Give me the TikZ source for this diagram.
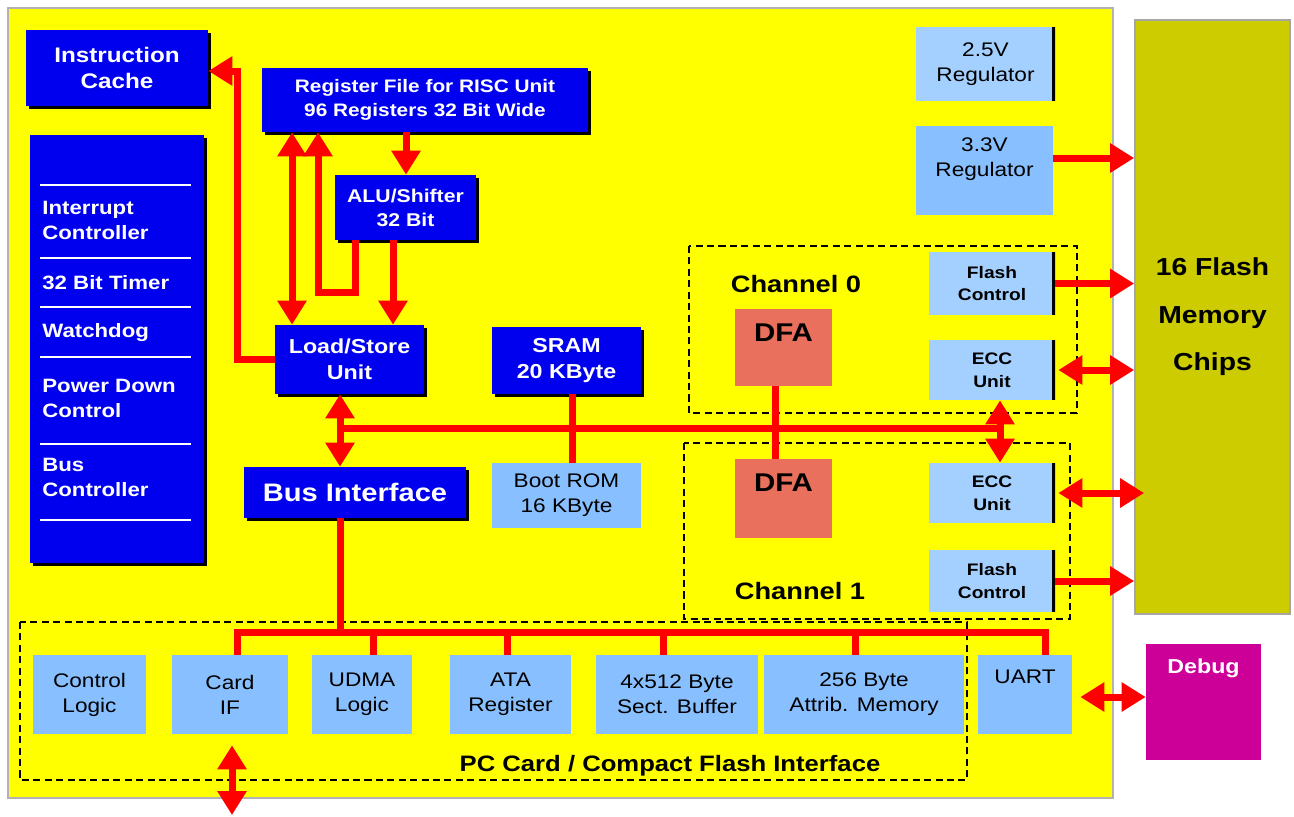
\documentclass[tikz,border=0pt]{standalone}
\usepackage{fontspec}
\setmainfont{Liberation Sans}[FakeStretch=1.15]
\usepackage{tikz}
\usetikzlibrary{arrows.meta,shadows,calc}
\definecolor{BoardYellow}{HTML}{FFFF00}
\definecolor{CoreBlue}{HTML}{0000EE}
\definecolor{UnitBlue}{HTML}{88C0FF}
\definecolor{CtrlBlue}{HTML}{A4D0FF}
\definecolor{ChipOlive}{HTML}{CCCC00}
\definecolor{DfaSalmon}{HTML}{E8705C}
\definecolor{DebugMagenta}{HTML}{CC0099}
\definecolor{BusRed}{HTML}{FF0000}

\begin{document}
\begin{tikzpicture}[x=0.02cm, y=-0.02cm,
    core/.style={fill=CoreBlue, text=white, align=center, inner sep=0pt,
        drop shadow={shadow xshift=1.6pt, shadow yshift=-1.6pt, fill=black, opacity=1},
        font=\bfseries\fontsize{11.5}{14.7}\selectfont},
    unit/.style={fill=UnitBlue, align=center, inner sep=0pt, font=\fontsize{11.2}{14.2}\selectfont},
    blackedge/.style={path picture={\draw[black, line width=3pt] (path picture bounding box.north east) -- (path picture bounding box.south east);}},
    ctrl/.style={fill=CtrlBlue, blackedge, align=center, inner sep=0pt, font=\bfseries\fontsize{9.5}{13}\selectfont},
    sidetext/.style={anchor=west, align=left, text=white, inner sep=0pt, font=\bfseries\fontsize{11}{14.2}\selectfont},
    grp/.style={draw=black, line width=0.8pt, dash pattern=on 4pt off 2.5pt},
    grplabel/.style={inner sep=0pt, font=\bfseries\fontsize{13.5}{16}\selectfont},
    bus/.style={draw=BusRed, line width=0.14cm},
    arr/.style={bus, -{Triangle[length=0.48cm, width=0.56cm]}},
    dblarr/.style={bus, {Triangle[length=0.48cm, width=0.56cm]}-{Triangle[length=0.48cm, width=0.56cm]}}]
    \useasboundingbox (0,0) rectangle (1294,816);
    % board and external parts
    \node[fill=BoardYellow, draw=gray!60, line width=1pt, minimum width=22.1cm, minimum height=15.8cm, inner sep=0pt] (board) at (560.5,403) {};
    \node[fill=ChipOlive, draw=gray!70, line width=1pt, minimum width=3.10cm, minimum height=11.88cm, align=center, inner sep=0pt, font=\bfseries\fontsize{14}{27}\selectfont] (chips) at (1212.5,317) {16 Flash\\Memory\\Chips};
    \node[fill=DebugMagenta, minimum width=2.30cm, minimum height=2.32cm, inner sep=0pt, label={[anchor=north, yshift=-0.30cm, inner sep=0pt, text=white, font=\bfseries\fontsize{11.5}{14}\selectfont]north:Debug}] (debug) at (1203.5,702) {};

    % dashed groups
    \draw[grp] (689,246) rectangle (1077,413);
    \draw[grp] (684,443) rectangle (1070,619);
    \draw[grp] (20,622) rectangle (967,780);
    \node[grplabel] (ch0lbl) at (796,284) {Channel 0};
    \node[grplabel] (ch1lbl) at (800,591) {Channel 1};
    \node[grplabel, font=\bfseries\fontsize{12.7}{15}\selectfont] (pclbl) at (670,766) {PC Card / Compact Flash Interface};

    % processor core
    \node[core, minimum width=3.64cm, minimum height=1.52cm, font=\bfseries\fontsize{12}{14.7}\selectfont] (icache) at (117,68) {Instruction\\Cache};
    \node[core, minimum width=6.52cm, minimum height=1.28cm, font=\bfseries\fontsize{10.3}{13.6}\selectfont] (regfile) at (425,100) {Register File for RISC Unit\\96 Registers 32 Bit Wide};
    \node[core, minimum width=2.82cm, minimum height=1.30cm, font=\bfseries\fontsize{10.5}{13.6}\selectfont] (alu) at (405.5,207.5) {ALU/Shifter\\32 Bit};
    \node[core, minimum width=2.98cm, minimum height=1.38cm] (ls) at (349.5,359.5) {Load/Store\\Unit};
    \node[core, minimum width=2.98cm, minimum height=1.34cm] (sram) at (566.5,360.5) {SRAM\\20 KByte};
    \node[core, minimum width=4.44cm, minimum height=1.02cm, font=\bfseries\fontsize{14.4}{16}\selectfont] (busif) at (355,492.5) {Bus Interface};
    \node[unit, minimum width=2.98cm, minimum height=1.30cm] (bootrom) at (566.5,495.5) {Boot ROM\\16 KByte};

    % peripherals column
    \node[core, minimum width=3.48cm, minimum height=8.56cm] (periph) at (117,349) {};
    \foreach \y in {185,258,307,357,444,520}
        \draw[white, line width=0.9pt] (40,\y) -- (191,\y);
    \node[sidetext] (irq) at (42,220) {Interrupt\\Controller};
    \node[sidetext] (timer) at (42,283) {32 Bit Timer};
    \node[sidetext] (wdog) at (42,333) {Watchdog};
    \node[sidetext] (pwrdn) at (42,398.5) {Power Down\\Control};
    \node[sidetext] (busctl) at (42,477.5) {Bus\\Controller};

    % regulators and flash channels
    \node[unit, fill=CtrlBlue, blackedge, minimum width=2.78cm, minimum height=1.48cm] (reg25) at (985.5,64) {2.5V\\Regulator};
    \node[unit, minimum width=2.74cm, minimum height=1.78cm, label={[anchor=north, yshift=-0.24cm, inner sep=0pt, align=center, font=\fontsize{11.2}{14.2}\selectfont]north:3.3V\\Regulator}] (reg33) at (984.5,170.5) {};
    \node[ctrl, minimum width=2.52cm, minimum height=1.26cm] (fc0) at (992,283.5) {Flash\\Control};
    \node[ctrl, minimum width=2.52cm, minimum height=1.20cm] (ecc0) at (992,370) {ECC\\Unit};
    \node[ctrl, minimum width=2.52cm, minimum height=1.20cm] (ecc1) at (992,493) {ECC\\Unit};
    \node[ctrl, minimum width=2.52cm, minimum height=1.24cm] (fc1) at (992,581) {Flash\\Control};
    \node[fill=DfaSalmon, minimum width=1.94cm, minimum height=1.54cm, inner sep=0pt, label={[anchor=north, yshift=-0.30cm, inner sep=0pt, font=\bfseries\fontsize{14.6}{16}\selectfont]north:DFA}] (dfa0) at (783.5,347.5) {};
    \node[fill=DfaSalmon, minimum width=1.94cm, minimum height=1.58cm, inner sep=0pt, label={[anchor=north, yshift=-0.30cm, inner sep=0pt, font=\bfseries\fontsize{14.6}{16}\selectfont]north:DFA}] (dfa1) at (783.5,498.5) {};

    % host interface blocks
    \node[unit, minimum width=2.26cm, minimum height=1.58cm] (ctl) at (89.5,694.5) {Control\\Logic};
    \node[unit, minimum width=2.32cm, minimum height=1.58cm] (cardif) at (230,694.5) {Card\\IF};
    \node[unit, minimum width=2.00cm, minimum height=1.58cm] (udma) at (362,694.5) {UDMA\\Logic};
    \node[unit, minimum width=2.42cm, minimum height=1.58cm] (ata) at (510.5,694.5) {ATA\\Register};
    \node[unit, minimum width=3.24cm, minimum height=1.58cm] (sect) at (677,694.5) {4x512 Byte\\Sect. Buffer};
    \node[unit, minimum width=4.00cm, minimum height=1.58cm] (attr) at (864,694.5) {256 Byte\\Attrib. Memory};
    \node[unit, minimum width=1.88cm, minimum height=1.58cm, label={[anchor=north, yshift=-0.29cm, inner sep=0pt, font=\fontsize{11.2}{14.2}\selectfont]north:UART}] (uart) at (1025,694.5) {};

    % core connections
    \draw[arr] (ls.west) -| (237,71) -- (icache.east |- 237,71);
    \draw[dblarr] (regfile.south -| 292,0) -- (ls.north -| 292,0);
    \draw[arr] (alu.south -| 355,0) |- (318,292) -- (regfile.south -| 318,0);
    \draw[arr] (regfile.south -| 406,0) -- (alu.north -| 406,0);
    \draw[arr] (alu.south -| 393,0) -- (ls.north -| 393,0);
    \draw[dblarr] (ls.south -| 340,0) -- (busif.north -| 340,0);

    % internal bus
    \coordinate (busL) at (340,428);
    \coordinate (busR) at (1000,428);
    \draw[bus] (busL) -- (busR);
    \draw[bus] (sram.south -| 572,0) -- (bootrom.north -| 572,0);
    \draw[bus] (dfa0.south -| 775,0) -- (dfa1.north -| 775,0);
    \draw[dblarr] (ecc0.south -| busR) -- (ecc1.north -| busR);

    % host bus
    \draw[bus] (busif.south -| 340,0) -- (340,632);
    \draw[bus] (cardif.north -| 237,0) |- (1045,632) -- (uart.north -| 1045,0);
    \foreach \blk/\x in {udma/373, ata/507, sect/663, attr/855}
        \draw[bus] (\blk.north -| \x,0) -- (\x,632);
    \coordinate (cfpin) at (232,815);
    \draw[dblarr] ($(cardif.south -| cfpin)+(0,11)$) -- (cfpin);
    \draw[dblarr] ($(uart.east |- 0,697)+(8,0)$) -- (debug.west |- 0,697);

    % flash memory connections
    \draw[arr] (reg33.east |- 0,158) -- (chips.west |- 0,158);
    \draw[arr] (fc0.east) -- (fc0.east -| chips.west);
    \draw[dblarr] ($(ecc0.east)+(3,0)$) -- (ecc0.east -| chips.west);
    \draw[dblarr] ($(ecc1.east)+(3,0)$) -- ($(ecc1.east -| chips.west)+(10,0)$);
    \draw[arr] (fc1.east) -- (fc1.east -| chips.west);
\end{tikzpicture}
\end{document}
